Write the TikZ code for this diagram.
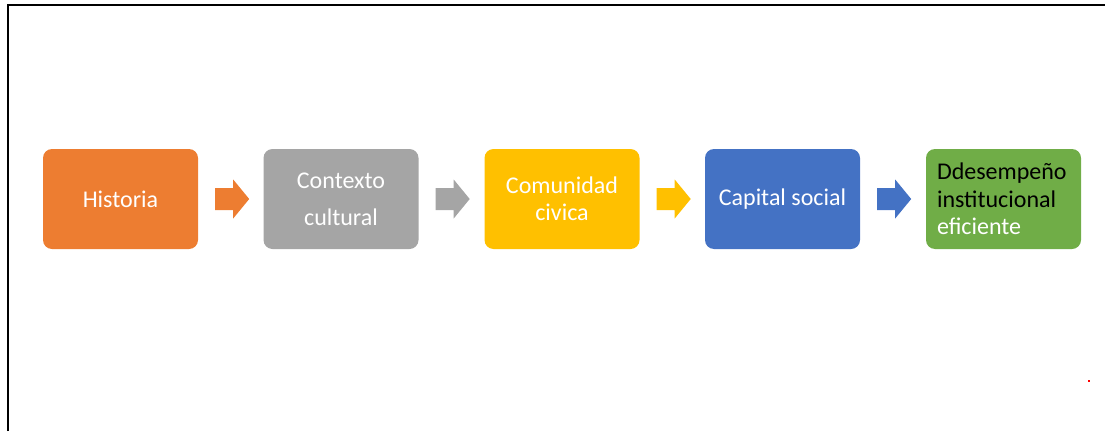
\documentclass[tikz,border=0pt]{standalone}
\usepackage{fontspec}
\setmainfont{Carlito}
\usetikzlibrary{calc}
\definecolor{cOrange}{HTML}{ED7D31}
\definecolor{cGray}{HTML}{A5A5A5}
\definecolor{cYellow}{HTML}{FFC000}
\definecolor{cBlue}{HTML}{4472C4}
\definecolor{cGreen}{HTML}{70AD47}
\newcommand{\flecha}[2]{\fill[#2] ($(#1.east)+(17,-11)$) -- ++(18,0) -- ++(0,-8.5) -- ++(16,19.5) -- ++(-16,19.5) -- ++(0,-8.5) -- ++(-18,0) -- cycle;}
\begin{document}
\begin{tikzpicture}[x=1pt,y=-1pt,
  box/.style={rounded corners=9pt, minimum width=155pt, minimum height=100pt, inner sep=0pt,
    text=white, align=center, font=\fontsize{24}{27}\selectfont}]
\useasboundingbox (0,0) rectangle (1105,431);
\draw[line width=2pt] (8,431) -- (8,5) -- (1105,5);
\node[box, fill=cOrange] (h) at (120.5,199) {Historia};
\node[box, fill=cGray] (c) at (341,199) {Contexto\\[10pt]cultural};
\node[box, fill=cYellow] (m) at (562,199) {Comunidad\\civica};
\node[box, fill=cBlue] (k) at (782.5,199) {Capital social};
\node[box, fill=cGreen, align=left, text width=133pt] (d) at (1003.5,199) {\textcolor{black}{Ddesempeño}\\[0.5pt]\textcolor{black}{institucional}\\[0.5pt]eficiente};
\flecha{h}{cOrange}
\flecha{c}{cGray}
\flecha{m}{cYellow}
\flecha{k}{cBlue}
\fill[red] (1088,380) rectangle (1090,382);
\end{tikzpicture}
\end{document}
